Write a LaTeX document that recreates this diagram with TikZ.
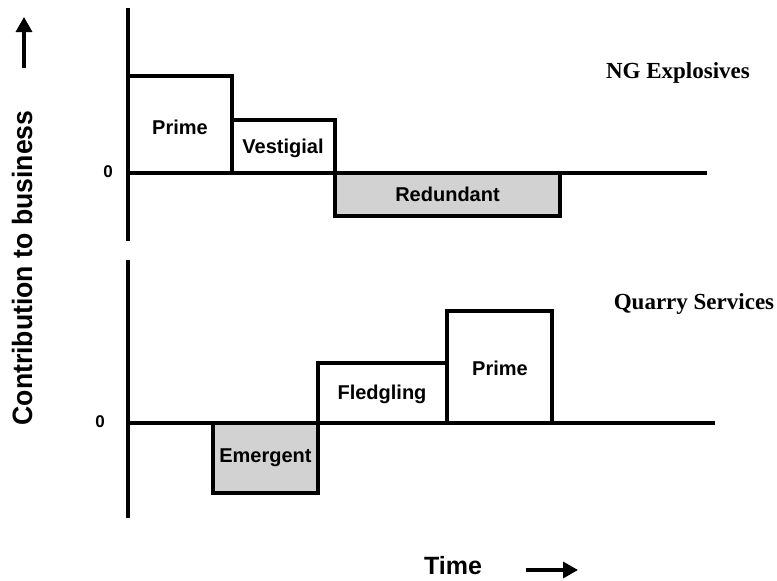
\documentclass[tikz,border=0pt]{standalone}
\usepackage{fontspec}
\setmainfont{Liberation Serif}
\setsansfont{Liberation Sans}
\usetikzlibrary{arrows.meta}
\begin{document}
\begin{tikzpicture}[x=1pt,y=-1pt,
  axis/.style={line width=3.2pt},
  barlabel/.style={font=\sffamily\bfseries\fontsize{20}{22}\selectfont},
  bar/.style={draw,line width=3.2pt,inner sep=0pt,outer sep=0pt,anchor=north west,
    barlabel,fill=white},
  negbar/.style={bar,fill=gray!35},
  zerolab/.style={font=\sffamily\bfseries\fontsize{17}{19}\selectfont},
  titlelab/.style={font=\rmfamily\bfseries\fontsize{23}{25}\selectfont},
  bigarrow/.style={line width=3.2pt,-{Triangle[length=15pt,width=16pt]}}]
\useasboundingbox (0,0) rectangle (777,581);

% upper panel: NG Explosives
\node[bar,minimum width=104pt,minimum height=97pt] (prA) at (128,76) {};
\node[barlabel] (prAt) at (180,127) {Prime};
\node[bar,minimum width=103pt,minimum height=53pt] (ves) at (232,120) {};
\node[barlabel] (vest) at (283,148) {Vestigial};
\node[negbar,minimum width=225pt,minimum height=43pt] (red) at (335,173) {Redundant};
\coordinate (a1b) at (128,241);
\coordinate (a1t) at (128,8);
\coordinate (z1l) at (128,173);
\coordinate (z1r) at (707,173);
\draw[axis] (a1b) -- (a1t);
\draw[axis] (z1l) -- (z1r);
\node[zerolab] (zA) at (108,172) {0};
\node[titlelab] (ng) at (678,73) {NG Explosives};

% lower panel: Quarry Services
\node[negbar,minimum width=105pt,minimum height=70pt] (emg) at (213,423) {Emergent};
\node[bar,minimum width=129pt,minimum height=60pt] (fle) at (318,363) {};
\node[barlabel] (flet) at (382,394) {Fledgling};
\node[bar,minimum width=105pt,minimum height=112pt] (prB) at (447,311) {};
\node[barlabel] (prBt) at (500,368) {Prime};
\coordinate (a2b) at (128,518);
\coordinate (a2t) at (128,260);
\coordinate (z2l) at (128,423);
\coordinate (z2r) at (715,423);
\draw[axis] (a2b) -- (a2t);
\draw[axis] (z2l) -- (z2r);
\node[zerolab] (zB) at (100,422) {0};
\node[titlelab] (qs) at (694,304) {Quarry Services};

% axis titles
\node[font=\sffamily\bfseries\fontsize{28}{30}\selectfont,inner sep=0pt] (ylab) at (22,268)
  {\rotatebox{90}{\scalebox{0.95}[1]{Contribution to business}}};
\coordinate (uaS) at (24,68);
\coordinate (uaE) at (24,17);
\draw[bigarrow] (uaS) -- (uaE);
\node[font=\sffamily\bfseries\fontsize{25}{27}\selectfont] (tlab) at (453,566) {Time};
\coordinate (raS) at (526,570);
\coordinate (raE) at (578,570);
\draw[bigarrow] (raS) -- (raE);
\end{tikzpicture}
\end{document}
